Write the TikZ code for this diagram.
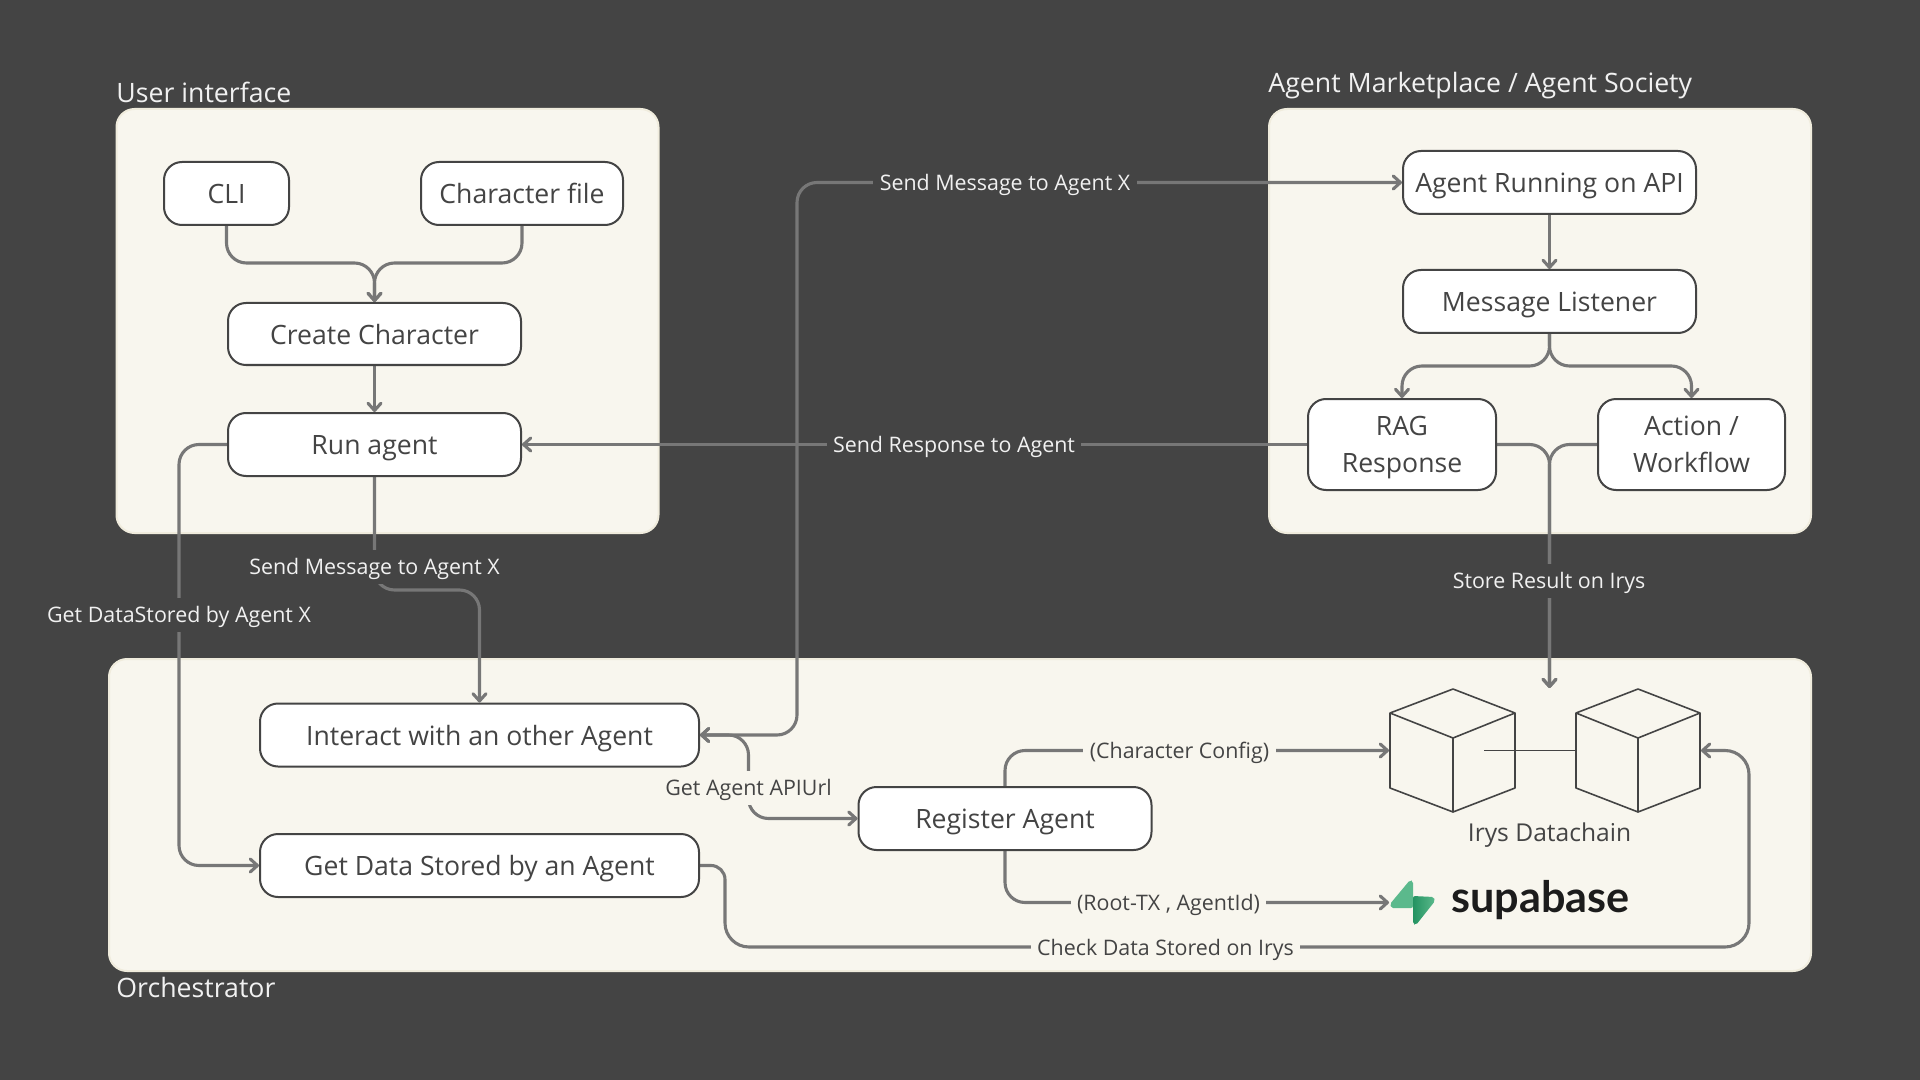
\documentclass[tikz,border=0pt]{standalone}
\usepackage{fontspec}
\setmainfont{Open Sans}
\newfontfamily\logofont{Lato}
\usetikzlibrary{arrows.meta}
\definecolor{bgdark}{HTML}{444444}
\definecolor{panelc}{HTML}{F8F6EE}
\definecolor{panelb}{HTML}{F0ECDD}
\definecolor{wirec}{HTML}{777777}
\definecolor{inkc}{HTML}{444444}
\definecolor{lightc}{HTML}{F1F1F1}
\definecolor{logoa}{HTML}{5BB98C}
\definecolor{logob}{HTML}{249361}
\pgfdeclarelayer{panels}
\pgfdeclarelayer{wires}
\pgfsetlayers{panels,wires,main}
\tikzset{
  panelbox/.style={fill=panelc,draw=panelb,line width=1pt,rounded corners=9pt},
  nodebox/.style={draw=inkc,fill=white,line width=1pt,rounded corners=9pt,text=inkc,
    font=\fontsize{13.3pt}{18.5pt}\selectfont,align=center,inner sep=0pt},
  oneline/.style={text height=10pt,text depth=0pt},
  bw/.style={minimum width=#1*0.5pt},
  bh/.style={minimum height=#1*0.5pt},
  wire/.style={draw=wirec,line width=1.55pt,rounded corners=10pt},
  arr/.style={-{Straight Barb[length=3.6pt,width=6.5pt,round]}},
  barr/.style={{Straight Barb[length=3.6pt,width=6.5pt,round]}-{Straight Barb[length=3.6pt,width=6.5pt,round]}},
  darklabel/.style={fill=bgdark,text=lightc,font=\fontsize{10.7pt}{13pt}\selectfont,inner xsep=3.2pt,inner ysep=2pt,text height=10.4pt,text depth=2.6pt},
  panellabel/.style={fill=panelc,text=inkc,font=\fontsize{10.7pt}{13pt}\selectfont,inner xsep=3.2pt,inner ysep=2pt,text height=10.4pt,text depth=2.6pt},
  title/.style={text=lightc,font=\fontsize{13.35pt}{16pt}\selectfont,anchor=base west,inner sep=0pt},
  cube/.style={draw=inkc,line width=0.8pt,line join=round},
}
\begin{document}
\begin{tikzpicture}[x=0.5pt,y=-0.5pt]
\begin{pgfonlayer}{panels}
\path[use as bounding box,fill=bgdark] (0,0) rectangle (1920,1080);
\end{pgfonlayer}

% titles
\node[title] (tui) at (116,102.5) {User interface};
\node[title] (tam) at (1268,92.5) {Agent Marketplace / Agent Society};
\node[title] (tor) at (116,997) {Orchestrator};

% boxes
\node[nodebox,oneline,bw=125,bh=63] (cli) at (226.5,193.5) {CLI};
\node[nodebox,oneline,bw=202,bh=63] (charfile) at (522,193.5) {Character file};
\node[nodebox,oneline,bw=293,bh=62] (create) at (374.5,334) {Create Character};
\node[nodebox,oneline,bw=293,bh=63] (run) at (374.5,444.5) {Run agent};
\node[nodebox,oneline,bw=293,bh=63] (agentapi) at (1549.5,182.5) {Agent Running on API};
\node[nodebox,oneline,bw=293,bh=63] (listener) at (1549.5,301.5) {Message Listener};
\node[nodebox,text depth=0pt,bw=188,bh=91] (rag) at (1402,444.5) {\raisebox{0.5pt}{RAG}\\\raisebox{0.5pt}{Response}};
\node[nodebox,text depth=0pt,bw=187,bh=91] (action) at (1691.5,444.5) {\raisebox{0.5pt}{Action /}\\\raisebox{0.5pt}{Workflow}};
\node[nodebox,oneline,bw=439,bh=63] (interact) at (479.5,735) {Interact with an other Agent};
\node[nodebox,oneline,bw=439,bh=63] (getdata) at (479.5,865.5) {Get Data Stored by an Agent};
\node[nodebox,oneline,bw=293,bh=63] (register) at (1005,818.5) {Register Agent};

% cubes
\draw[cube] (1390,713) -- (1453,689) -- (1515,713) -- (1515,788) -- (1453,812) -- (1390,788) -- cycle
  (1390,713) -- (1453,738) -- (1515,713) (1453,738) -- (1453,812);
\draw[cube] (1576,713) -- (1638,689) -- (1700,713) -- (1700,788) -- (1638,812) -- (1576,788) -- cycle
  (1576,713) -- (1638,738) -- (1700,713) (1638,738) -- (1638,812);
\draw[cube,line width=0.6pt] (1484,750.4) -- (1576,750.4);
\coordinate (cubew) at (1389,750.5);
\coordinate (cubee) at (1701,750.5);
\coordinate (storeend) at (1549.5,688);
\node[text=inkc,font=\fontsize{12.3pt}{15pt}\selectfont,inner sep=0pt] (irys) at (1549.5,835) {Irys Datachain};

% supabase logo
\fill[logoa,rounded corners=1pt] (1410,880) -- (1413,881) -- (1413,908) -- (1391,908) -- (1390,904) -- cycle;
\shade[left color=logob,right color=logoa,rounded corners=1pt] (1413,896) -- (1434,897) -- (1435,901) -- (1416,925) -- (1413,924) -- cycle;
\coordinate (logow) at (1389,902.5);
\node[text=black!89,font=\logofont\bfseries\fontsize{21.6pt}{24pt}\selectfont,anchor=base west,inner sep=0pt] (supa) at (1451,912) {supabase};

% labels
\node[darklabel] (lgetdata) at (179,615) {Get DataStored by Agent X};
\node[darklabel] (lsendrun) at (374.5,567) {Send Message to Agent X};
\node[darklabel] (lsendtop) at (1005,182.5) {Send Message to Agent X};
\node[darklabel] (lresp) at (954,444.5) {Send Response to Agent};
\node[darklabel] (lstore) at (1549,581) {Store Result on Irys};
\node[panellabel] (lapi) at (748.5,788) {Get Agent APIUrl};
\node[panellabel] (lchar) at (1179.5,750.5) {(Character Config)};
\node[panellabel] (lroot) at (1168.5,903) {(Root-TX , AgentId)};
\node[panellabel] (lcheck) at (1165.5,947.5) {Check Data Stored on Irys};

\begin{pgfonlayer}{panels}
\draw[panelbox] (116.5,109) rectangle (658.5,533);
\draw[panelbox] (1269,109) rectangle (1811,533);
\draw[panelbox] (109,659) rectangle (1811,971);
\end{pgfonlayer}

\begin{pgfonlayer}{wires}
\draw[wire,arr] (cli.south) -- (226.5,263) -- (374.5,263) -- (create.north);
\draw[wire,arr] (charfile.south) -- (522,263) -- (374.5,263) -- (create.north);
\draw[wire,arr] (create) -- (run);
\draw[wire,arr] (run.west) -- (179,444.5) -- (179,865.5) -- (getdata.west);
\draw[wire,arr] (run.south) -- (374.5,590) -- (479.5,590) -- (interact.north);
\draw[wire,barr] (interact.east) -- (797,735) -- (797,182.5) -- (agentapi.west);
\draw[wire,arr] (agentapi) -- (listener);
\draw[wire,arr] (listener.south) -- (1549.5,366) -- (1402,366) -- (rag.north);
\draw[wire,arr] (listener.south) -- (1549.5,366) -- (1691.5,366) -- (action.north);
\draw[wire,arr] (rag.west) -- (run.east);
\draw[wire,arr] (rag.east) -- (1549.5,444.5) -- (storeend);
\draw[wire,arr] (action.west) -- (1549.5,444.5) -- (storeend);
\draw[wire,arr] (lapi.center) -- (748.5,735) -- (interact.east);
\draw[wire,arr] (lapi.center) -- (748.5,818.5) -- (register.west);
\draw[wire,arr] (register.north) -- (1005,750.5) -- (cubew);
\draw[wire,arr] (register.south) -- (1005,902.5) -- (logow);
\draw[wire,arr] (getdata.east) [rounded corners=7pt] -- (725,865.5) [rounded corners=12pt] -- (725,947) -- (1749,947) -- (1749,750.5) -- (cubee);
\end{pgfonlayer}
\end{tikzpicture}
\end{document}
